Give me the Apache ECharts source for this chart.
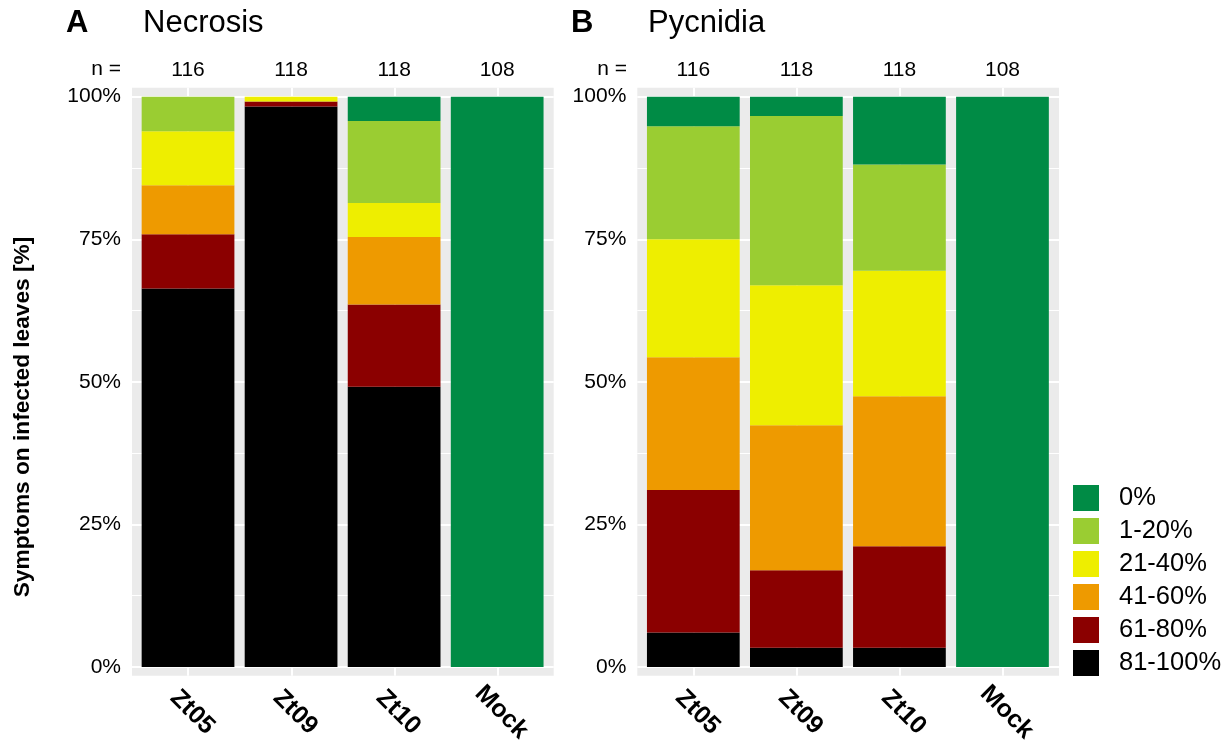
<!DOCTYPE html>
<html>
<head>
<meta charset="utf-8">
<script src="https://cdn.jsdelivr.net/npm/echarts@6/dist/echarts.min.js"></script>
<style>
html,body{margin:0;padding:0;background:#fff;}
#chart{width:1230px;height:748px;}
</style>
</head>
<body>
<div id="chart"></div>
<script>
// ---- data ----
const categories = ['Zt05', 'Zt09', 'Zt10', 'Mock'];
const nNecrosis = ['116', '118', '118', '108'];
const nPycnidia = ['116', '118', '118', '108'];
const classes = ['0%', '1-20%', '21-40%', '41-60%', '61-80%', '81-100%'];
const classColors = ['#008B45', '#9ACD32', '#EEEE00', '#EE9A00', '#8B0000', '#000000'];
const yTicks = [0, 25, 50, 75, 100];
const yMinorTicks = [12.5, 37.5, 62.5, 87.5];

// percentages per class (rows follow `classes`), columns follow `categories`
const necrosis0   = [0, 0, 4.24, 100];
const necrosis1   = [6.03, 0, 14.41, 0];
const necrosis21  = [9.48, 0.85, 5.93, 0];
const necrosis41  = [8.62, 0, 11.86, 0];
const necrosis61  = [9.48, 0.85, 14.41, 0];
const necrosis81  = [66.38, 98.30, 49.15, 0];

const pycnidia0   = [5.17, 3.39, 11.86, 100];
const pycnidia1   = [19.83, 29.66, 18.64, 0];
const pycnidia21  = [20.69, 24.58, 22.03, 0];
const pycnidia41  = [23.28, 25.42, 26.27, 0];
const pycnidia61  = [25.00, 13.56, 17.80, 0];
const pycnidia81  = [6.03, 3.39, 3.39, 0];

const necrosisData = [necrosis0, necrosis1, necrosis21, necrosis41, necrosis61, necrosis81];
const pycnidiaData = [pycnidia0, pycnidia1, pycnidia21, pycnidia41, pycnidia61, pycnidia81];

// ---- layout ----
const FONT = '"Liberation Sans", Arial, sans-serif';
const panels = [
  {greyLeft: 132, dataLeft: 136.5, title: 'Necrosis', tag: 'A', tagX: 66, titleX: 143, nX: 121, data: necrosisData, n: nNecrosis},
  {greyLeft: 637.3, dataLeft: 641.8, title: 'Pycnidia', tag: 'B', tagX: 571, titleX: 648, nX: 627, data: pycnidiaData, n: nPycnidia}
];
const greyTop = 87.7, greyH = 588, greyW = 421.7;
const dataTop = 96.7, dataH = 570.3, dataW = 412.2;
const gxMin = 0.4563, gxMax = 4.5437, gyMin = -1.53, gyMax = 101.58;

const grid = [], xAxis = [], yAxis = [], series = [], graphic = [];

panels.forEach((p, pi) => {
  const gi = pi * 2;
  grid.push({left: p.greyLeft, top: greyTop, width: greyW, height: greyH, show: true, backgroundColor: '#EBEBEB', borderWidth: 0, z: 0});
  grid.push({left: p.dataLeft, top: dataTop, width: dataW, height: dataH, show: false});

  const xg = xAxis.length;
  xAxis.push({type: 'value', gridIndex: gi, min: gxMin, max: gxMax, show: false});
  const xb = xAxis.length;
  xAxis.push({
    type: 'category', gridIndex: gi + 1, data: categories, position: 'bottom',
    axisLine: {show: false}, axisTick: {show: false}, splitLine: {show: false},
    axisLabel: {rotate: -45, align: 'center', verticalAlign: 'middle', margin: 41, padding: [0, 0, 0, 12],
      fontFamily: FONT, fontSize: 25, fontWeight: 'bold', color: '#000', interval: 0}
  });
  xAxis.push({
    type: 'category', gridIndex: gi + 1, data: p.n, position: 'top',
    axisLine: {show: false}, axisTick: {show: false}, splitLine: {show: false},
    axisLabel: {fontFamily: FONT, fontSize: 21, color: '#000', margin: 26, verticalAlign: 'middle', interval: 0}
  });
  const yg = yAxis.length;
  yAxis.push({type: 'value', gridIndex: gi, min: gyMin, max: gyMax, show: false});
  const yd = yAxis.length;
  yAxis.push({
    type: 'value', gridIndex: gi + 1, min: 0, max: 100, interval: 25,
    axisLine: {show: false}, axisTick: {show: false}, splitLine: {show: false},
    axisLabel: {formatter: '{value}%', fontFamily: FONT, fontSize: 21, color: '#000', margin: 15.5, padding: [9, 0, 0, 0]}
  });

  // grid lines in the grey panel
  const lines = [];
  yTicks.forEach(v => lines.push({yAxis: v, lineStyle: {width: 2}}));
  yMinorTicks.forEach(v => lines.push({yAxis: v, lineStyle: {width: 1}}));
  categories.forEach((c, i) => lines.push({xAxis: i + 1, lineStyle: {width: 2}}));
  series.push({
    type: 'scatter', xAxisIndex: xg, yAxisIndex: yg, data: [], silent: true, z: 1,
    markLine: {silent: true, z: 1, symbol: ['none', 'none'], label: {show: false},
      lineStyle: {color: '#FFFFFF', type: 'solid'}, animation: false, data: lines}
  });

  // stacked bars, bottom class first
  for (let k = classes.length - 1; k >= 0; k--) {
    series.push({
      type: 'bar', name: classes[k], stack: 'p' + pi, xAxisIndex: xb, yAxisIndex: yd,
      data: p.data[k], barWidth: '90%', z: 10,
      itemStyle: {color: classColors[k], borderWidth: 0}
    });
  }

  graphic.push({type: 'text', left: p.tagX, top: 8, style: {text: p.tag, font: 'bold 31px ' + FONT, fill: '#000'}});
  graphic.push({type: 'text', left: p.titleX, top: 8, style: {text: p.title, font: '31px ' + FONT, fill: '#000'}});
  graphic.push({type: 'text', x: p.nX, y: 69, style: {text: 'n =', font: '21px ' + FONT, fill: '#000', textAlign: 'right', textVerticalAlign: 'middle'}});
});

graphic.push({type: 'text', x: 23, y: 417, rotation: Math.PI / 2,
  style: {text: 'Symptoms on infected leaves [%]', font: 'bold 22.7px ' + FONT, fill: '#000', textAlign: 'center', textVerticalAlign: 'middle'}});

const option = {
  animation: false,
  backgroundColor: '#FFFFFF',
  grid, xAxis, yAxis, series, graphic,
  legend: {
    data: classes, orient: 'vertical', left: 1073, top: 485, padding: 0,
    itemWidth: 26, itemHeight: 26, itemGap: 7, icon: 'rect',
    selectedMode: false,
    textStyle: {fontFamily: FONT, fontSize: 25.5, color: '#000', padding: [0, 0, 0, 15]}
  }
};

const chart = echarts.init(document.getElementById('chart'), null, {renderer: 'canvas'});
chart.setOption(option);
</script>
</body>
</html>
